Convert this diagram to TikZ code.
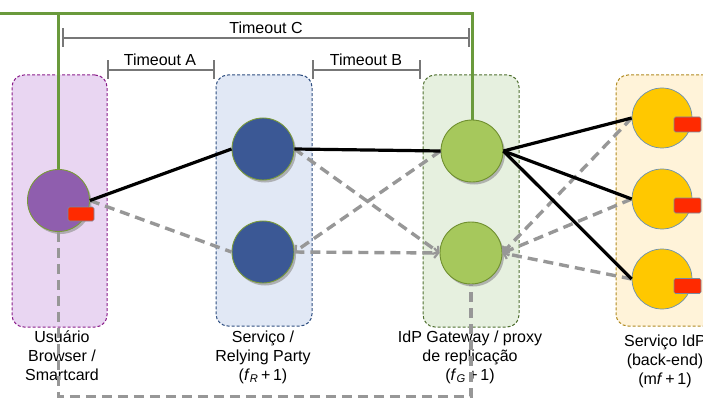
\documentclass[tikz,border=0pt]{standalone}
\usepackage{fontspec}
\setmainfont{Liberation Sans}
\usetikzlibrary{arrows.meta,shadows,calc}
\definecolor{pboxf}{HTML}{E9D6F2}\definecolor{pboxd}{HTML}{8B1E8B}
\definecolor{pcirc}{HTML}{8F5EAE}
\definecolor{bboxf}{HTML}{E1E8F5}\definecolor{bboxd}{HTML}{2E4E80}
\definecolor{bcirc}{HTML}{3B5895}
\definecolor{gboxf}{HTML}{E6F0DF}\definecolor{gboxd}{HTML}{4F6F2F}
\definecolor{gcirc}{HTML}{A6C85C}\definecolor{gcircd}{HTML}{6F8F2F}
\definecolor{yboxf}{HTML}{FFF3D9}\definecolor{yboxd}{HTML}{B08A20}
\definecolor{ycirc}{HTML}{FFC800}\definecolor{ycircd}{HTML}{6A90B0}
\definecolor{redr}{HTML}{FF2A00}\definecolor{redd}{HTML}{7A8AA0}
\definecolor{dgray}{HTML}{979797}\definecolor{tgray}{HTML}{777777}
\definecolor{route}{HTML}{6A9A3C}\definecolor{cedge}{HTML}{7A9A3A}
\tikzset{
  grpbox/.style={draw, densely dashed, line width=1pt, rounded corners=12pt, inner sep=0pt},
  proc/.style={circle, inner sep=0pt, minimum size=62pt, line width=0.9pt,
     drop shadow={shadow xshift=2pt, shadow yshift=-2.5pt, fill=black!40, opacity=0.7}},
  yproc/.style={circle, inner sep=0pt, minimum size=60pt, line width=0.7pt, draw=ycircd, fill=ycirc},
  card/.style={draw=redd, fill=redr, line width=0.6pt, rounded corners=1.5pt, inner sep=0pt},
  solidlink/.style={line width=3.2pt, black},
  dlink/.style={line width=3.4pt, dgray, dash pattern=on 10pt off 6pt},
  dtip/.style={-{Straight Barb[length=4pt,width=10pt,line width=2.2pt]}},
  tmline/.style={line width=1.5pt, tgray},
  lbl/.style={align=center, font=\fontsize{16}{19}\selectfont, inner sep=0pt},
  tlbl/.style={font=\fontsize{16}{18}\selectfont, inner sep=0pt}
}
\begin{document}
\begin{tikzpicture}[x=1pt,y=-1pt]
\useasboundingbox (0,0) rectangle (703,398);
% group boxes
\node[grpbox, draw=pboxd, fill=pboxf, minimum width=95pt, minimum height=252pt] (ubox) at (59.5,201) {};
\node[grpbox, draw=bboxd, fill=bboxf, minimum width=96pt, minimum height=251pt] (rbox) at (264,200.5) {};
\node[grpbox, draw=gboxd, fill=gboxf, minimum width=96pt, minimum height=252pt] (gbox) at (471,201) {};
\node[grpbox, draw=yboxd, fill=yboxf, minimum width=100pt, minimum height=251pt] (ybox) at (666,200.5) {};
% labels
\node[lbl] (ulbl) at (62,356) {Usuário\\Browser /\\Smartcard};
\node[lbl] (rlbl) at (263,357) {Serviço /\\Relying Party\\(\textit{f}\textsubscript{\textit{R}}\,+\,1)};
\node[lbl] (glbl) at (470,357) {IdP Gateway / proxy\\de replicação\\(\textit{f}\textsubscript{\textit{G}}\,+\,1)};
\node[lbl] (ylbl) at (665,361) {Serviço IdP\\(back-end)\\(m\textit{f}\,+\,1)};
% timeouts
\coordinate (tcL) at (63,38); \coordinate (tcR) at (469,38);
\coordinate (taL) at (108,70); \coordinate (taR) at (214,70);
\coordinate (tbL) at (313,70); \coordinate (tbR) at (420,70);
\foreach \a/\b in {tcL/tcR,taL/taR,tbL/tbR}{
  \draw[tmline] (\a) -- (\b);
  \draw[tmline] ([yshift=9.5pt]\a) -- ([yshift=-9.5pt]\a);
  \draw[tmline] ([yshift=9.5pt]\b) -- ([yshift=-9.5pt]\b);
}
\node[tlbl] (tc) at (266,28) {Timeout C};
\node[tlbl] (ta) at (160,60) {Timeout A};
\node[tlbl] (tb) at (366,60) {Timeout B};
% processes
\node[proc, draw=cedge, fill=pcirc] (u) at (58.5,200.5) {};
\node[proc, draw=cedge, fill=bcirc] (r1) at (263,149) {};
\node[proc, draw=cedge, fill=bcirc] (r2) at (263,252) {};
\node[proc, draw=gcircd, fill=gcirc] (g1) at (472,151) {};
\node[proc, draw=gcircd, fill=gcirc] (g2) at (471,253) {};
\node[yproc] (y1) at (662,118) {};
\node[yproc] (y2) at (662,199) {};
\node[yproc] (y3) at (662,279) {};
\node[card, minimum width=26pt, minimum height=14pt] (uc) at (81,214) {};
\node[card, minimum width=27pt, minimum height=15pt] (yc1) at (687.5,124.5) {};
\node[card, minimum width=27pt, minimum height=15pt] (yc2) at (687.5,205.5) {};
\node[card, minimum width=27pt, minimum height=15pt] (yc3) at (687.5,286) {};
% green route
\coordinate (top) at (0,14);
\draw[route, line width=3pt] (u.north) |- (top) -| (g1.north);
% dashed links
\draw[dlink] (u.east) -- (r2.west);
\draw[dlink, dtip] (r1.east) -- (g2.west);
\draw[dlink, dtip] (g1.west) -- (r2.east);
\draw[dlink, dtip] (r2.east) -- (g2.west);
\draw[dlink, dtip] (y1.west) -- (g2.east);
\draw[dlink, dtip] (y2.west) -- (g2.east);
\draw[dlink, dtip] (y3.west) -- (g2.east);
\coordinate (bot) at (0,396.5);
\draw[dlink] (u.south) -- (u.south |- bot) -| (g2.south);
% solid links
\draw[solidlink] (u.east) -- (r1.west);
\draw[solidlink] (r1.east) -- (g1.west);
\draw[solidlink] (g1.east) -- (y1.west);
\draw[solidlink] (g1.east) -- (y2.west);
\draw[solidlink] (g1.east) -- (y3.west);
\end{tikzpicture}
\end{document}
